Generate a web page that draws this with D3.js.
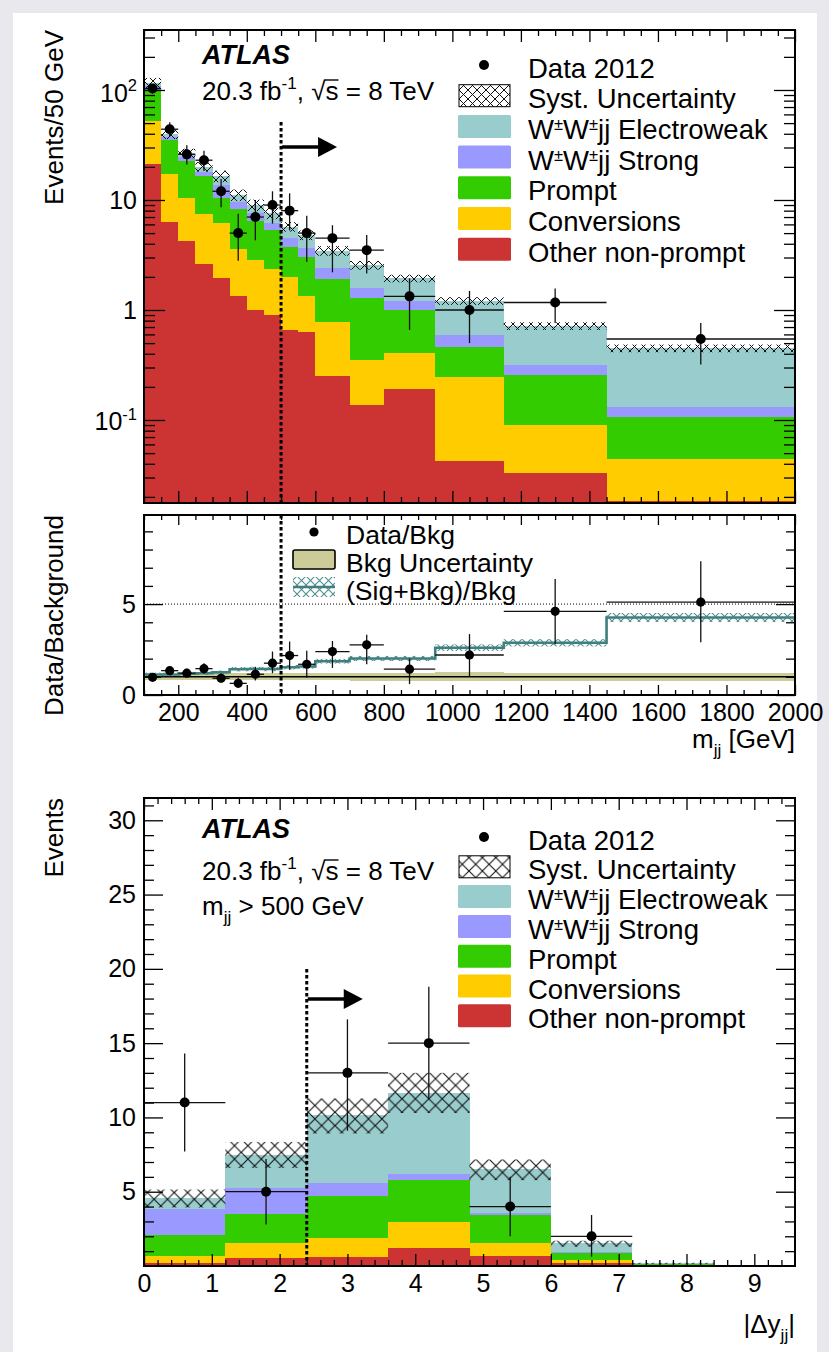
<!DOCTYPE html>
<html>
<head>
<meta charset="utf-8">
<script src="https://cdn.jsdelivr.net/npm/d3@7"></script>
<style>
  body { margin: 0; background: #e9e9ed; }
  svg { display: block; }
</style>
</head>
<body>
<svg id="fig" width="829" height="1352"></svg>
<script>
// ---------------- m_jj distribution (Events / 50 GeV) ----------------
const mjjEdges = [100,150,200,250,300,350,400,450,500,550,600,700,800,950,1150,1450,2000];
const mjjOtherNonPrompt = [21.3,6.3,4.27,2.6,1.94,1.34,0.99,0.91,0.66,0.635,0.252,0.137,0.19,0.042,0.033,0.0185];
const mjjConversions    = [31.3,11.0,6.23,4.9,4.26,2.26,1.86,1.43,1.32,0.705,0.528,0.213,0.22,0.206,0.057,0.0257];
const mjjPrompt         = [47.4,17.8,12.0,9.0,4.3,4.6,3.55,2.96,1.79,1.71,1.12,0.93,0.58,0.216,0.166,0.0628];
const mjjStrong         = [9,2.6,1.9,1.6,3.2,1.46,1.17,0.9,0.72,0.59,0.49,0.29,0.22,0.126,0.06,0.023];
const mjjElectroweak    = [6,2.1,2.2,2.0,2.8,1.44,1.43,1.4,1.23,1.16,1.07,0.99,0.73,0.62,0.40,0.319];
const mjjSystFrac       = [0.12,0.1,0.1,0.1,0.12,0.12,0.12,0.12,0.1,0.1,0.1,0.09,0.08,0.08,0.08,0.08];
const mjjData   = [103,44,26,23,12,5,7,9,8,5,4.5,3.5,1.33,1.0,1.17,0.545];
const mjjDataLo = [93,37.5,21,18.3,8.6,2.8,4.3,6.1,5.3,2.75,2.2,2.15,0.66,0.5,0.76,0.32];
const mjjDataHi = [113,51,31.5,28,15.5,7.5,10,12,11.5,7.2,5.9,4.8,1.94,1.49,1.57,0.76];

// ---------------- ratio panel ----------------
const ratioData = [0.97,1.34,1.2,1.45,0.92,0.64,1.14,1.75,2.17,1.69,2.39,2.76,1.42,2.2,4.6,5.11];
const ratioLo   = [0.88,1.15,1.0,1.17,0.67,0.4,0.8,1.2,1.38,0.95,1.49,1.69,0.6,1.0,2.79,2.9];
const ratioHi   = [1.06,1.55,1.45,1.75,1.2,0.95,1.55,2.39,2.94,2.44,2.97,3.32,2.02,3.35,6.38,7.35];
const sigBkgRatio = [1.13,1.13,1.17,1.2,1.25,1.42,1.43,1.43,1.53,1.57,1.86,2.01,2.01,2.6,2.87,4.26];
const sigBkgUnc   = [0.1,0.1,0.1,0.1,0.1,0.12,0.12,0.12,0.12,0.12,0.13,0.14,0.14,0.18,0.2,0.25];
const bkgUnc      = [0.17,0.17,0.18,0.18,0.19,0.19,0.2,0.2,0.2,0.2,0.2,0.21,0.21,0.25,0.21,0.21];
const mjjTickLabels = [200,400,600,800,1000,1200,1400,1600,1800,2000];

// ---------------- |Δy_jj| distribution (m_jj > 500 GeV) ----------------
const dyEdges = [0,1.2,2.4,3.6,4.8,6.0,7.2,8.4,9.6];
const dyOtherNonPrompt = [0.18,0.52,0.58,1.23,0.67,0.18,0.03,0.04];
const dyConversions    = [0.49,1.0,1.28,1.75,0.85,0.22,0.03,0.0];
const dyPrompt         = [1.41,1.99,2.87,2.8,1.91,0.5,0.06,0.0];
const dyStrong         = [1.73,1.73,0.87,0.38,0.11,0.02,0.01,0.0];
const dyElectroweak    = [0.78,2.26,4.53,5.49,2.96,0.6,0.05,0.01];
const dySystLo = [3.94,6.6,8.92,10.3,5.78,1.3,0.13,0.02];
const dySystHi = [5.15,8.35,11.27,13.0,7.17,1.7,0.22,0.05];
const dyData   = [11,5,13,15,4,2];
const dyDataLo = [7.7,2.8,9.1,11.2,2.0,0.63];
const dyDataHi = [14.3,7.2,16.6,18.8,6.0,3.43];

const FONT = '"Liberation Sans", Arial, Helvetica, sans-serif';
const COL = {
  nonprompt: "#cc3333", conv: "#ffcc00", prompt: "#33cc00",
  strong: "#9999ff", ew: "#99cccc", bkgUnc: "#cccc99", sig: "#3f7f7d"
};

const W = 829, H = 1352;
const svg = d3.select("#fig").attr("font-family", FONT);
svg.append("rect").attr("width", W).attr("height", H).attr("fill", "#e9e9ed");
svg.append("rect").attr("x", 13).attr("y", 13).attr("width", 804).attr("height", H - 13).attr("fill", "#fff");

const defs = svg.append("defs");
function crossHatch(id, color, size, sw) {
  const p = defs.append("pattern").attr("id", id)
    .attr("patternUnits", "userSpaceOnUse").attr("width", size).attr("height", size);
  p.append("path").attr("d", `M0,0L${size},${size}M${size},0L0,${size}`)
    .attr("stroke", color).attr("stroke-width", sw).attr("fill", "none");
}
crossHatch("xh", "#111", 9, 1);
crossHatch("xhWide", "#111", 13.4, 1.1);
crossHatch("xhTeal", "#4f8f8d", 9, 1.1);

// panel frames
const L = 144, R = 795;
const P1 = { top: 30, bottom: 503 };
const P2 = { top: 515, bottom: 695 };
const P3 = { top: 798, bottom: 1266 };

function clip(id, p) {
  defs.append("clipPath").attr("id", id).append("rect")
    .attr("x", L).attr("y", p.top).attr("width", R - L).attr("height", p.bottom - p.top);
}
clip("c1", P1); clip("c2", P2); clip("c3", P3);

// scales
const xM = d3.scaleLinear().domain([100, 2000]).range([L, R]);
const yM = d3.scaleLog().domain([0.0176, 351]).range([P1.bottom, P1.top]);
const yR = d3.scaleLinear().domain([0, 9.9]).range([P2.bottom, P2.top]);
const xD = d3.scaleLinear().domain([0, 9.6]).range([L, R]);
const yD = d3.scaleLinear().domain([0, 31.5]).range([P3.bottom, P3.top]);

// stacked histogram
function drawStack(g, edges, series, x, y, floor) {
  const rows = edges.slice(0, -1).map((e, i) => {
    const r = { i };
    series.forEach(s => r[s.key] = s.values[i]);
    return r;
  });
  const layers = d3.stack().keys(series.map(s => s.key))(rows);
  layers.forEach((layer, k) => {
    g.append("g").attr("shape-rendering", "crispEdges").selectAll("rect").data(layer).join("rect")
      .attr("x", d => x(edges[d.data.i]))
      .attr("width", d => x(edges[d.data.i + 1]) - x(edges[d.data.i]))
      .attr("y", d => y(Math.max(d[1], floor)))
      .attr("height", d => Math.max(0, y(Math.max(d[0], floor)) - y(Math.max(d[1], floor))))
      .attr("fill", series[k].color);
  });
  return layers;
}

function drawPoints(g, edges, vals, lo, hi, x, y, r) {
  vals.forEach((v, i) => {
    const cx = x((edges[i] + edges[i + 1]) / 2), cy = y(v);
    g.append("line").attr("x1", x(edges[i])).attr("x2", x(edges[i + 1])).attr("y1", cy).attr("y2", cy)
      .attr("stroke", "#111").attr("stroke-width", 1.3);
    g.append("line").attr("x1", cx).attr("x2", cx).attr("y1", y(lo[i])).attr("y2", y(hi[i]))
      .attr("stroke", "#111").attr("stroke-width", 1.3);
    g.append("circle").attr("cx", cx).attr("cy", cy).attr("r", r).attr("fill", "#000");
  });
}

function axis(gen, tr, vals, size, fmt, fontSize) {
  const g = svg.append("g").attr("transform", tr)
    .call(gen.tickValues(vals).tickSize(-size).tickPadding(8).tickFormat(fmt || (() => "")));
  g.select(".domain").remove();
  g.attr("font-family", FONT).attr("font-size", fontSize || 25);
  g.selectAll("line").attr("stroke", "#000").attr("stroke-width", 1.3);
  g.selectAll("text").attr("fill", "#000");
  return g;
}

function frame(p) {
  svg.append("rect").attr("x", L).attr("y", p.top).attr("width", R - L).attr("height", p.bottom - p.top)
    .attr("fill", "none").attr("stroke", "#000").attr("stroke-width", 2);
}

// text with super/subscripts: parts are strings or {t, sup} / {t, sub}
function rich(parent, x, y, parts, size, opts = {}) {
  const t = parent.append("text").attr("x", x).attr("y", y).attr("font-size", size)
    .attr("text-anchor", opts.anchor || "start").attr("fill", "#000");
  if (opts.transform) t.attr("transform", opts.transform);
  const supShift = opts.supShift || 0.42;
  const subSize = opts.subSize || 0.66;
  let shift = 0;
  parts.forEach(p => {
    if (typeof p === "string") {
      t.append("tspan").attr("dy", -shift).text(p); shift = 0;
    } else {
      const s = p.sup ? -supShift * size : 0.3 * size;
      t.append("tspan").attr("dy", s - shift).attr("font-size", size * subSize).text(p.t);
      shift = s;
    }
  });
  return t;
}

// luminosity / energy line, with the bar of the square root drawn over "s"
function lumiText(x, y) {
  const t = rich(svg, x, y, ["20.3 fb", { t: "-1", sup: true }, ", \u221As = 8 TeV"], 26);
  const node = t.node();
  const idx = node.textContent.indexOf("\u221A");
  if (idx >= 0 && node.getNumberOfChars() > idx + 1) {
    const x0 = node.getEndPositionOfChar(idx).x - 1;
    const x1 = node.getEndPositionOfChar(idx + 1).x;
    svg.append("line").attr("x1", x0).attr("x2", x1).attr("y1", y - 20).attr("y2", y - 20)
      .attr("stroke", "#000").attr("stroke-width", 1.4);
  }
}

function arrow(g, x0, y0) {
  g.append("line").attr("x1", x0).attr("x2", x0 + 38).attr("y1", y0).attr("y2", y0)
    .attr("stroke", "#000").attr("stroke-width", 3.5);
  g.append("path").attr("d", `M${x0 + 36},${y0 - 10}L${x0 + 55},${y0}L${x0 + 36},${y0 + 10}Z`).attr("fill", "#000");
}

// ================= Panel 1: m_jj =================
const g1 = svg.append("g").attr("clip-path", "url(#c1)");
const mjjSeries = [
  { key: "nonprompt", values: mjjOtherNonPrompt, color: COL.nonprompt },
  { key: "conv", values: mjjConversions, color: COL.conv },
  { key: "prompt", values: mjjPrompt, color: COL.prompt },
  { key: "strong", values: mjjStrong, color: COL.strong },
  { key: "ew", values: mjjElectroweak, color: COL.ew }
];
const mjjLayers = drawStack(g1, mjjEdges, mjjSeries, xM, yM, yM.domain()[0]);
const mjjTotal = mjjLayers[mjjLayers.length - 1].map(d => d[1]);
g1.append("g").selectAll("rect").data(mjjTotal).join("rect")
  .attr("x", (d, i) => xM(mjjEdges[i]))
  .attr("width", (d, i) => xM(mjjEdges[i + 1]) - xM(mjjEdges[i]))
  .attr("y", (d, i) => yM(d * (1 + mjjSystFrac[i])))
  .attr("height", (d, i) => yM(d * (1 - mjjSystFrac[i])) - yM(d * (1 + mjjSystFrac[i])))
  .attr("fill", "url(#xh)");
drawPoints(g1, mjjEdges, mjjData, mjjDataLo, mjjDataHi, xM, yM, 5);

// m_jj > 500 GeV selection
g1.append("line").attr("x1", xM(500)).attr("x2", xM(500)).attr("y1", 122).attr("y2", P1.bottom)
  .attr("stroke", "#000").attr("stroke-width", 3).attr("stroke-dasharray", "3.5,2.5");
arrow(svg, xM(500) + 1, 147);

frame(P1);
const mjjMajor = d3.range(200, 2001, 200);
const mjjMinor = d3.range(100, 2001, 50).filter(v => v % 200 !== 0);
axis(d3.axisBottom(xM), `translate(0,${P1.bottom})`, mjjMajor, 12);
axis(d3.axisBottom(xM), `translate(0,${P1.bottom})`, mjjMinor, 6);
axis(d3.axisTop(xM), `translate(0,${P1.top})`, mjjMajor, 12);
axis(d3.axisTop(xM), `translate(0,${P1.top})`, mjjMinor, 6);
const logMajor = [0.1, 1, 10, 100];
const logMinor = [];
[-2, -1, 0, 1, 2].forEach(e => d3.range(2, 10).forEach(m => {
  const v = m * Math.pow(10, e);
  if (v > yM.domain()[0] && v < yM.domain()[1]) logMinor.push(v);
}));
axis(d3.axisLeft(yM), `translate(${L},0)`, logMajor, 21);
axis(d3.axisLeft(yM), `translate(${L},0)`, logMinor, 11);
axis(d3.axisRight(yM), `translate(${R},0)`, logMajor, 21);
axis(d3.axisRight(yM), `translate(${R},0)`, logMinor, 11);
// log tick labels
const logLabels = [
  { v: 100, parts: ["10", { t: "2", sup: true }], dy: 12 },
  { v: 10, parts: ["10"], dy: 9 },
  { v: 1, parts: ["1"], dy: 9 },
  { v: 0.1, parts: ["10", { t: "-1", sup: true }], dy: 10 }
];
logLabels.forEach(l => rich(svg, 137, yM(l.v) + l.dy, l.parts, 25, { anchor: "end" }));

rich(svg, 63, P1.top, ["Events/50 GeV"], 26, { anchor: "end", transform: `rotate(-90,63,${P1.top})` });
svg.append("text").attr("x", 202).attr("y", 64).attr("font-size", 27).attr("font-weight", "bold")
  .attr("font-style", "italic").text("ATLAS");
lumiText(202, 100);

// legend
function legend(y0, step, hatchId) {
  const items = [
    { type: "data", label: ["Data 2012"] },
    { type: "hatch", label: ["Syst. Uncertainty"] },
    { type: "fill", color: COL.ew, label: ["W", { t: "\u00B1", sup: true }, "W", { t: "\u00B1", sup: true }, "jj Electroweak"] },
    { type: "fill", color: COL.strong, label: ["W", { t: "\u00B1", sup: true }, "W", { t: "\u00B1", sup: true }, "jj Strong"] },
    { type: "fill", color: COL.prompt, label: ["Prompt"] },
    { type: "fill", color: COL.conv, label: ["Conversions"] },
    { type: "fill", color: COL.nonprompt, label: ["Other non-prompt"] }
  ];
  items.forEach((it, k) => {
    const cy = y0 + k * step;
    if (it.type === "data") {
      svg.append("circle").attr("cx", 484).attr("cy", cy).attr("r", 5).attr("fill", "#000");
    } else if (it.type === "hatch") {
      svg.append("rect").attr("x", 459).attr("y", cy - 11).attr("width", 51).attr("height", 22)
        .attr("fill", `url(#${hatchId})`).attr("stroke", "#000").attr("stroke-width", 1);
    } else {
      svg.append("rect").attr("x", 458).attr("y", cy - 11.5).attr("width", 53).attr("height", 23)
        .attr("rx", 1.5).attr("fill", it.color);
    }
    rich(svg, 528, cy + 12.5, it.label, 27.5, { supShift: 0.33, subSize: 0.6 });
  });
}
legend(65, 30.7, "xh");

// ================= Panel 2: ratio =================
const g2 = svg.append("g").attr("clip-path", "url(#c2)");
g2.append("g").selectAll("rect").data(bkgUnc).join("rect")
  .attr("x", (d, i) => xM(mjjEdges[i]))
  .attr("width", (d, i) => xM(mjjEdges[i + 1]) - xM(mjjEdges[i]))
  .attr("y", d => yR(1 + d)).attr("height", d => yR(1 - d) - yR(1 + d))
  .attr("fill", COL.bkgUnc).attr("shape-rendering", "crispEdges");
g2.append("line").attr("x1", L).attr("x2", R).attr("y1", yR(1)).attr("y2", yR(1))
  .attr("stroke", "#000").attr("stroke-width", 1.6);
g2.append("line").attr("x1", L).attr("x2", R).attr("y1", yR(5)).attr("y2", yR(5))
  .attr("stroke", "#000").attr("stroke-width", 1).attr("stroke-dasharray", "1,2");
g2.append("g").selectAll("rect").data(sigBkgRatio).join("rect")
  .attr("x", (d, i) => xM(mjjEdges[i]))
  .attr("width", (d, i) => xM(mjjEdges[i + 1]) - xM(mjjEdges[i]))
  .attr("y", (d, i) => yR(d + sigBkgUnc[i]))
  .attr("height", (d, i) => yR(d - sigBkgUnc[i]) - yR(d + sigBkgUnc[i]))
  .attr("fill", "url(#xhTeal)");
const sigPts = sigBkgRatio.map((v, i) => [mjjEdges[i], v]).concat([[mjjEdges[mjjEdges.length - 1], sigBkgRatio[sigBkgRatio.length - 1]]]);
g2.append("path").datum(sigPts)
  .attr("d", d3.line().x(d => xM(d[0])).y(d => yR(d[1])).curve(d3.curveStepAfter))
  .attr("fill", "none").attr("stroke", COL.sig).attr("stroke-width", 2.6);
drawPoints(g2, mjjEdges, ratioData, ratioLo, ratioHi, xM, yR, 4.6);
g2.append("line").attr("x1", xM(500)).attr("x2", xM(500)).attr("y1", P2.top).attr("y2", P2.bottom)
  .attr("stroke", "#000").attr("stroke-width", 3).attr("stroke-dasharray", "3.5,2.5");

frame(P2);
axis(d3.axisBottom(xM), `translate(0,${P2.bottom})`, mjjTickLabels, 10, d3.format("d"), 25);
axis(d3.axisBottom(xM), `translate(0,${P2.bottom})`, mjjMinor, 5);
axis(d3.axisTop(xM), `translate(0,${P2.top})`, mjjMajor, 10);
axis(d3.axisTop(xM), `translate(0,${P2.top})`, mjjMinor, 5);
axis(d3.axisLeft(yR), `translate(${L},0)`, [0, 5], 19, d3.format("d"), 25);
axis(d3.axisLeft(yR), `translate(${L},0)`, [1, 2, 3, 4, 6, 7, 8, 9], 9);
axis(d3.axisRight(yR), `translate(${R},0)`, [0, 5], 19);
axis(d3.axisRight(yR), `translate(${R},0)`, [1, 2, 3, 4, 6, 7, 8, 9], 9);

rich(svg, 63, P2.top, ["Data/Background"], 26, { anchor: "end", transform: `rotate(-90,63,${P2.top})` });
rich(svg, R, 748, ["m", { t: "jj", sub: true }, " [GeV]"], 26, { anchor: "end" });

// ratio legend
svg.append("circle").attr("cx", 314).attr("cy", 532).attr("r", 4.6).attr("fill", "#000");
rich(svg, 346, 544, ["Data/Bkg"], 26.5);
svg.append("rect").attr("x", 293).attr("y", 550).attr("width", 42).attr("height", 19).attr("rx", 2)
  .attr("fill", COL.bkgUnc).attr("stroke", "#000").attr("stroke-width", 1.6);
rich(svg, 346, 572, ["Bkg Uncertainty"], 26.5);
svg.append("rect").attr("x", 293).attr("y", 577).attr("width", 42).attr("height", 20).attr("fill", "url(#xhTeal)");
svg.append("line").attr("x1", 293).attr("x2", 335).attr("y1", 587).attr("y2", 587)
  .attr("stroke", COL.sig).attr("stroke-width", 2.6);
rich(svg, 346, 600, ["(Sig+Bkg)/Bkg"], 26.5);

// ================= Panel 3: |Δy_jj| =================
const g3 = svg.append("g").attr("clip-path", "url(#c3)");
const dySeries = [
  { key: "nonprompt", values: dyOtherNonPrompt, color: COL.nonprompt },
  { key: "conv", values: dyConversions, color: COL.conv },
  { key: "prompt", values: dyPrompt, color: COL.prompt },
  { key: "strong", values: dyStrong, color: COL.strong },
  { key: "ew", values: dyElectroweak, color: COL.ew }
];
drawStack(g3, dyEdges, dySeries, xD, yD, 0);
g3.append("g").selectAll("rect").data(dySystLo).join("rect")
  .attr("x", (d, i) => xD(dyEdges[i]))
  .attr("width", (d, i) => xD(dyEdges[i + 1]) - xD(dyEdges[i]))
  .attr("y", (d, i) => yD(dySystHi[i]))
  .attr("height", (d, i) => yD(d) - yD(dySystHi[i]))
  .attr("fill", "url(#xhWide)");
drawPoints(g3, dyEdges, dyData, dyDataLo, dyDataHi, xD, yD, 5);
g3.append("line").attr("x1", xD(2.4)).attr("x2", xD(2.4)).attr("y1", 969).attr("y2", P3.bottom)
  .attr("stroke", "#000").attr("stroke-width", 3).attr("stroke-dasharray", "3.5,2.5");
arrow(svg, xD(2.4) + 1, 999);

frame(P3);
const dyMajor = d3.range(0, 10, 1);
const dyMinor = d3.range(0, 48).map(k => k * 0.2).filter(v => Math.abs(v - Math.round(v)) > 1e-6 && v < 9.6);
axis(d3.axisBottom(xD), `translate(0,${P3.bottom})`, dyMajor, 12, d3.format("d"), 25);
axis(d3.axisBottom(xD), `translate(0,${P3.bottom})`, dyMinor, 6);
axis(d3.axisTop(xD), `translate(0,${P3.top})`, dyMajor, 12);
axis(d3.axisTop(xD), `translate(0,${P3.top})`, dyMinor, 6);
const evMajor = [5, 10, 15, 20, 25, 30];
const evMinor = d3.range(1, 32).filter(v => v % 5 !== 0);
axis(d3.axisLeft(yD), `translate(${L},0)`, evMajor, 19, d3.format("d"), 25);
axis(d3.axisLeft(yD), `translate(${L},0)`, evMinor, 10);
axis(d3.axisRight(yD), `translate(${R},0)`, evMajor, 19);
axis(d3.axisRight(yD), `translate(${R},0)`, evMinor, 10);

rich(svg, 63, P3.top, ["Events"], 26, { anchor: "end", transform: `rotate(-90,63,${P3.top})` });
rich(svg, R, 1333, ["|\u0394y", { t: "jj", sub: true }, "|"], 26, { anchor: "end" });
svg.append("text").attr("x", 202).attr("y", 838).attr("font-size", 27).attr("font-weight", "bold")
  .attr("font-style", "italic").text("ATLAS");
lumiText(202, 880);
rich(svg, 202, 915, ["m", { t: "jj", sub: true }, " > 500 GeV"], 26);
legend(837, 29.8, "xhWide");
</script>
</body>
</html>
